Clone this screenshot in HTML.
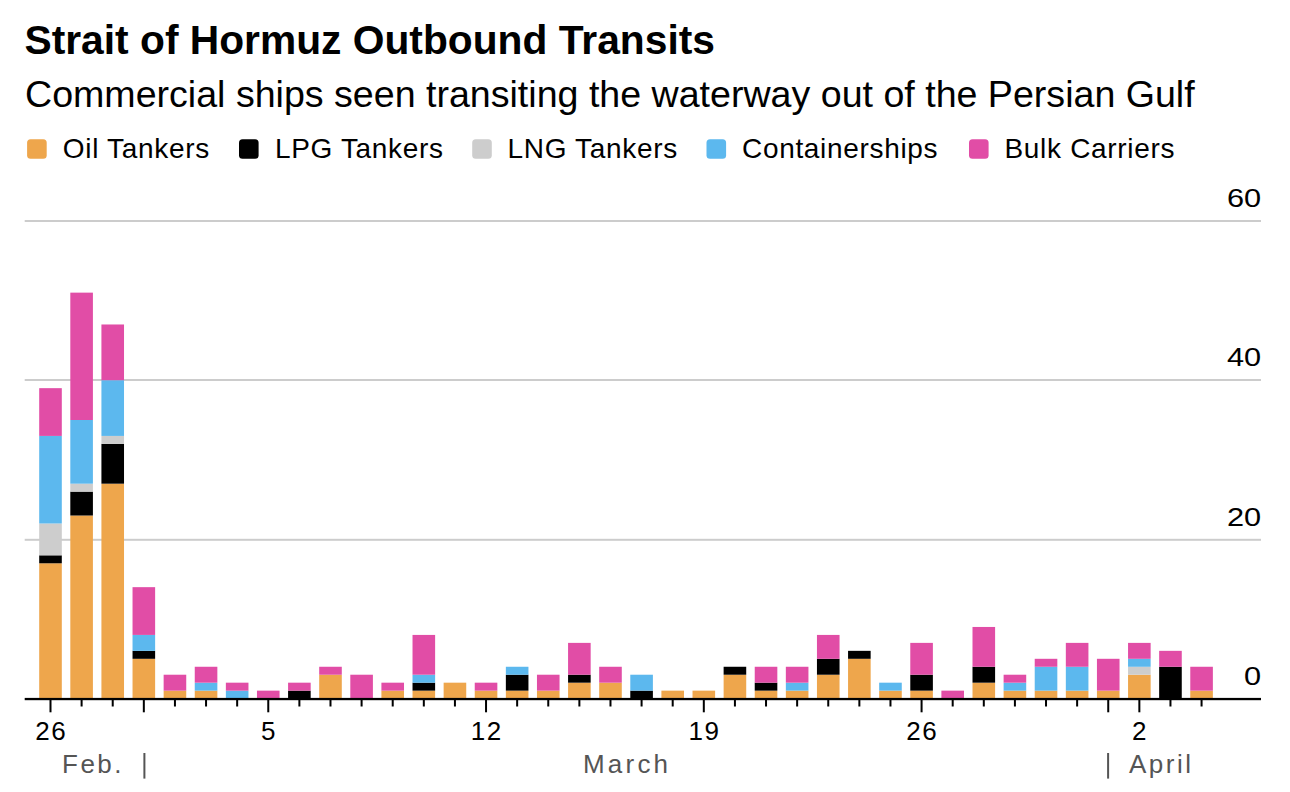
<!DOCTYPE html>
<html><head><meta charset="utf-8"><style>
html,body{margin:0;padding:0;background:#fff;width:1290px;height:792px;overflow:hidden}
svg{display:block;font-family:"Liberation Sans",sans-serif}
.ti{font-size:40.75px;font-weight:bold;fill:#000}
.st{font-size:37.6px;fill:#000}
.lg{font-size:28px;fill:#000;letter-spacing:0.68px}
.yl{font-size:26.5px;fill:#000}
.tk{font-size:26px;fill:#000;letter-spacing:1.5px}
.mo{font-size:26px;fill:#555;letter-spacing:2.5px}
</style></head><body>
<svg width="1290" height="792" viewBox="0 0 1290 792">
<text x="24.5" y="54.3" class="ti">Strait of Hormuz Outbound Transits</text>
<text x="25" y="106.7" class="st">Commercial ships seen transiting the waterway out of the Persian Gulf</text>
<rect x="27.1" y="139.3" width="19.6" height="19.4" rx="3.5" fill="#EEA64C"/><text x="62.8" y="158.1" class="lg">Oil Tankers</text><rect x="239" y="139.3" width="19.6" height="19.4" rx="3.5" fill="#000000"/><text x="274.9" y="158.1" class="lg">LPG Tankers</text><rect x="472.2" y="139.3" width="19.6" height="19.4" rx="3.5" fill="#CDCDCD"/><text x="507.5" y="158.1" class="lg">LNG Tankers</text><rect x="706.5" y="139.3" width="19.6" height="19.4" rx="3.5" fill="#5CB8EE"/><text x="742.0" y="158.1" class="lg">Containerships</text><rect x="969" y="139.3" width="19.6" height="19.4" rx="3.5" fill="#E14DA6"/><text x="1004.5" y="158.1" class="lg">Bulk Carriers</text>
<rect x="24.7" y="538.80" width="1236.3" height="2" fill="#CCCCCC"/><rect x="24.7" y="379.00" width="1236.3" height="2" fill="#CCCCCC"/><rect x="24.7" y="220.00" width="1236.3" height="2" fill="#CCCCCC"/>
<text transform="translate(1261.2,207.2) scale(1.16,1)" x="0" y="0" text-anchor="end" class="yl">60</text><text transform="translate(1261.2,366.4) scale(1.16,1)" x="0" y="0" text-anchor="end" class="yl">40</text><text transform="translate(1261.2,525.9) scale(1.16,1)" x="0" y="0" text-anchor="end" class="yl">20</text><text transform="translate(1261.2,684.6) scale(1.16,1)" x="0" y="0" text-anchor="end" class="yl">0</text>
<rect x="39.20" y="563.28" width="22.6" height="135.32" fill="#EEA64C"/><rect x="39.20" y="555.32" width="22.6" height="7.96" fill="#000000"/><rect x="39.20" y="523.48" width="22.6" height="31.84" fill="#CDCDCD"/><rect x="39.20" y="435.92" width="22.6" height="87.56" fill="#5CB8EE"/><rect x="39.20" y="388.16" width="22.6" height="47.76" fill="#E14DA6"/><rect x="70.31" y="515.52" width="22.6" height="183.08" fill="#EEA64C"/><rect x="70.31" y="491.64" width="22.6" height="23.88" fill="#000000"/><rect x="70.31" y="483.68" width="22.6" height="7.96" fill="#CDCDCD"/><rect x="70.31" y="420.00" width="22.6" height="63.68" fill="#5CB8EE"/><rect x="70.31" y="292.64" width="22.6" height="127.36" fill="#E14DA6"/><rect x="101.42" y="483.68" width="22.6" height="214.92" fill="#EEA64C"/><rect x="101.42" y="443.88" width="22.6" height="39.80" fill="#000000"/><rect x="101.42" y="435.92" width="22.6" height="7.96" fill="#CDCDCD"/><rect x="101.42" y="380.20" width="22.6" height="55.72" fill="#5CB8EE"/><rect x="101.42" y="324.48" width="22.6" height="55.72" fill="#E14DA6"/><rect x="132.53" y="658.80" width="22.6" height="39.80" fill="#EEA64C"/><rect x="132.53" y="650.84" width="22.6" height="7.96" fill="#000000"/><rect x="132.53" y="634.92" width="22.6" height="15.92" fill="#5CB8EE"/><rect x="132.53" y="587.16" width="22.6" height="47.76" fill="#E14DA6"/><rect x="163.64" y="690.64" width="22.6" height="7.96" fill="#EEA64C"/><rect x="163.64" y="674.72" width="22.6" height="15.92" fill="#E14DA6"/><rect x="194.75" y="690.64" width="22.6" height="7.96" fill="#EEA64C"/><rect x="194.75" y="682.68" width="22.6" height="7.96" fill="#5CB8EE"/><rect x="194.75" y="666.76" width="22.6" height="15.92" fill="#E14DA6"/><rect x="225.86" y="690.64" width="22.6" height="7.96" fill="#5CB8EE"/><rect x="225.86" y="682.68" width="22.6" height="7.96" fill="#E14DA6"/><rect x="256.97" y="690.64" width="22.6" height="7.96" fill="#E14DA6"/><rect x="288.08" y="690.64" width="22.6" height="7.96" fill="#000000"/><rect x="288.08" y="682.68" width="22.6" height="7.96" fill="#E14DA6"/><rect x="319.19" y="674.72" width="22.6" height="23.88" fill="#EEA64C"/><rect x="319.19" y="666.76" width="22.6" height="7.96" fill="#E14DA6"/><rect x="350.30" y="674.72" width="22.6" height="23.88" fill="#E14DA6"/><rect x="381.41" y="690.64" width="22.6" height="7.96" fill="#EEA64C"/><rect x="381.41" y="682.68" width="22.6" height="7.96" fill="#E14DA6"/><rect x="412.52" y="690.64" width="22.6" height="7.96" fill="#EEA64C"/><rect x="412.52" y="682.68" width="22.6" height="7.96" fill="#000000"/><rect x="412.52" y="674.72" width="22.6" height="7.96" fill="#5CB8EE"/><rect x="412.52" y="634.92" width="22.6" height="39.80" fill="#E14DA6"/><rect x="443.63" y="682.68" width="22.6" height="15.92" fill="#EEA64C"/><rect x="474.74" y="690.64" width="22.6" height="7.96" fill="#EEA64C"/><rect x="474.74" y="682.68" width="22.6" height="7.96" fill="#E14DA6"/><rect x="505.85" y="690.64" width="22.6" height="7.96" fill="#EEA64C"/><rect x="505.85" y="674.72" width="22.6" height="15.92" fill="#000000"/><rect x="505.85" y="666.76" width="22.6" height="7.96" fill="#5CB8EE"/><rect x="536.96" y="690.64" width="22.6" height="7.96" fill="#EEA64C"/><rect x="536.96" y="674.72" width="22.6" height="15.92" fill="#E14DA6"/><rect x="568.07" y="682.68" width="22.6" height="15.92" fill="#EEA64C"/><rect x="568.07" y="674.72" width="22.6" height="7.96" fill="#000000"/><rect x="568.07" y="642.88" width="22.6" height="31.84" fill="#E14DA6"/><rect x="599.18" y="682.68" width="22.6" height="15.92" fill="#EEA64C"/><rect x="599.18" y="666.76" width="22.6" height="15.92" fill="#E14DA6"/><rect x="630.29" y="690.64" width="22.6" height="7.96" fill="#000000"/><rect x="630.29" y="674.72" width="22.6" height="15.92" fill="#5CB8EE"/><rect x="661.40" y="690.64" width="22.6" height="7.96" fill="#EEA64C"/><rect x="692.51" y="690.64" width="22.6" height="7.96" fill="#EEA64C"/><rect x="723.62" y="674.72" width="22.6" height="23.88" fill="#EEA64C"/><rect x="723.62" y="666.76" width="22.6" height="7.96" fill="#000000"/><rect x="754.73" y="690.64" width="22.6" height="7.96" fill="#EEA64C"/><rect x="754.73" y="682.68" width="22.6" height="7.96" fill="#000000"/><rect x="754.73" y="666.76" width="22.6" height="15.92" fill="#E14DA6"/><rect x="785.84" y="690.64" width="22.6" height="7.96" fill="#EEA64C"/><rect x="785.84" y="682.68" width="22.6" height="7.96" fill="#5CB8EE"/><rect x="785.84" y="666.76" width="22.6" height="15.92" fill="#E14DA6"/><rect x="816.95" y="674.72" width="22.6" height="23.88" fill="#EEA64C"/><rect x="816.95" y="658.80" width="22.6" height="15.92" fill="#000000"/><rect x="816.95" y="634.92" width="22.6" height="23.88" fill="#E14DA6"/><rect x="848.06" y="658.80" width="22.6" height="39.80" fill="#EEA64C"/><rect x="848.06" y="650.84" width="22.6" height="7.96" fill="#000000"/><rect x="879.17" y="690.64" width="22.6" height="7.96" fill="#EEA64C"/><rect x="879.17" y="682.68" width="22.6" height="7.96" fill="#5CB8EE"/><rect x="910.28" y="690.64" width="22.6" height="7.96" fill="#EEA64C"/><rect x="910.28" y="674.72" width="22.6" height="15.92" fill="#000000"/><rect x="910.28" y="642.88" width="22.6" height="31.84" fill="#E14DA6"/><rect x="941.39" y="690.64" width="22.6" height="7.96" fill="#E14DA6"/><rect x="972.50" y="682.68" width="22.6" height="15.92" fill="#EEA64C"/><rect x="972.50" y="666.76" width="22.6" height="15.92" fill="#000000"/><rect x="972.50" y="626.96" width="22.6" height="39.80" fill="#E14DA6"/><rect x="1003.61" y="690.64" width="22.6" height="7.96" fill="#EEA64C"/><rect x="1003.61" y="682.68" width="22.6" height="7.96" fill="#5CB8EE"/><rect x="1003.61" y="674.72" width="22.6" height="7.96" fill="#E14DA6"/><rect x="1034.72" y="690.64" width="22.6" height="7.96" fill="#EEA64C"/><rect x="1034.72" y="666.76" width="22.6" height="23.88" fill="#5CB8EE"/><rect x="1034.72" y="658.80" width="22.6" height="7.96" fill="#E14DA6"/><rect x="1065.83" y="690.64" width="22.6" height="7.96" fill="#EEA64C"/><rect x="1065.83" y="666.76" width="22.6" height="23.88" fill="#5CB8EE"/><rect x="1065.83" y="642.88" width="22.6" height="23.88" fill="#E14DA6"/><rect x="1096.94" y="690.64" width="22.6" height="7.96" fill="#EEA64C"/><rect x="1096.94" y="658.80" width="22.6" height="31.84" fill="#E14DA6"/><rect x="1128.05" y="674.72" width="22.6" height="23.88" fill="#EEA64C"/><rect x="1128.05" y="666.76" width="22.6" height="7.96" fill="#CDCDCD"/><rect x="1128.05" y="658.80" width="22.6" height="7.96" fill="#5CB8EE"/><rect x="1128.05" y="642.88" width="22.6" height="15.92" fill="#E14DA6"/><rect x="1159.16" y="666.76" width="22.6" height="31.84" fill="#000000"/><rect x="1159.16" y="650.84" width="22.6" height="15.92" fill="#E14DA6"/><rect x="1190.27" y="690.64" width="22.6" height="7.96" fill="#EEA64C"/><rect x="1190.27" y="666.76" width="22.6" height="23.88" fill="#E14DA6"/>
<rect x="24.7" y="697.9" width="1236.3" height="2.3" fill="#000"/>
<rect x="49.50" y="699" width="2" height="13.30" fill="#000"/><rect x="80.61" y="699" width="2" height="7.50" fill="#000"/><rect x="111.72" y="699" width="2" height="7.50" fill="#000"/><rect x="142.83" y="699" width="2" height="13.30" fill="#000"/><rect x="173.94" y="699" width="2" height="7.50" fill="#000"/><rect x="205.05" y="699" width="2" height="7.50" fill="#000"/><rect x="236.16" y="699" width="2" height="7.50" fill="#000"/><rect x="267.27" y="699" width="2" height="13.30" fill="#000"/><rect x="298.38" y="699" width="2" height="7.50" fill="#000"/><rect x="329.49" y="699" width="2" height="7.50" fill="#000"/><rect x="360.60" y="699" width="2" height="7.50" fill="#000"/><rect x="391.71" y="699" width="2" height="7.50" fill="#000"/><rect x="422.82" y="699" width="2" height="7.50" fill="#000"/><rect x="453.93" y="699" width="2" height="7.50" fill="#000"/><rect x="485.04" y="699" width="2" height="13.30" fill="#000"/><rect x="516.15" y="699" width="2" height="7.50" fill="#000"/><rect x="547.26" y="699" width="2" height="7.50" fill="#000"/><rect x="578.37" y="699" width="2" height="7.50" fill="#000"/><rect x="609.48" y="699" width="2" height="7.50" fill="#000"/><rect x="640.59" y="699" width="2" height="7.50" fill="#000"/><rect x="671.70" y="699" width="2" height="7.50" fill="#000"/><rect x="702.81" y="699" width="2" height="13.30" fill="#000"/><rect x="733.92" y="699" width="2" height="7.50" fill="#000"/><rect x="765.03" y="699" width="2" height="7.50" fill="#000"/><rect x="796.14" y="699" width="2" height="7.50" fill="#000"/><rect x="827.25" y="699" width="2" height="7.50" fill="#000"/><rect x="858.36" y="699" width="2" height="7.50" fill="#000"/><rect x="889.47" y="699" width="2" height="7.50" fill="#000"/><rect x="920.58" y="699" width="2" height="13.30" fill="#000"/><rect x="951.69" y="699" width="2" height="7.50" fill="#000"/><rect x="982.80" y="699" width="2" height="7.50" fill="#000"/><rect x="1013.91" y="699" width="2" height="7.50" fill="#000"/><rect x="1045.02" y="699" width="2" height="7.50" fill="#000"/><rect x="1076.13" y="699" width="2" height="7.50" fill="#000"/><rect x="1107.24" y="699" width="2" height="13.30" fill="#000"/><rect x="1138.35" y="699" width="2" height="13.30" fill="#000"/><rect x="1169.46" y="699" width="2" height="7.50" fill="#000"/><rect x="1200.57" y="699" width="2" height="7.50" fill="#000"/>
<text x="51.25" y="739.8" text-anchor="middle" class="tk">26</text><text x="269.02" y="739.8" text-anchor="middle" class="tk">5</text><text x="486.79" y="739.8" text-anchor="middle" class="tk">12</text><text x="704.56" y="739.8" text-anchor="middle" class="tk">19</text><text x="922.33" y="739.8" text-anchor="middle" class="tk">26</text><text x="1140.10" y="739.8" text-anchor="middle" class="tk">2</text>
<text x="62" y="772.8" class="mo">Feb.</text>
<text x="583" y="772.8" class="mo" style="letter-spacing:3.2px">March</text>
<text x="1129" y="772.8" class="mo" style="letter-spacing:2.5px">April</text>
<rect x="143.4" y="753" width="2" height="25.6" fill="#555"/>
<rect x="1107.1" y="753" width="2" height="25.6" fill="#555"/>
</svg>
</body></html>
